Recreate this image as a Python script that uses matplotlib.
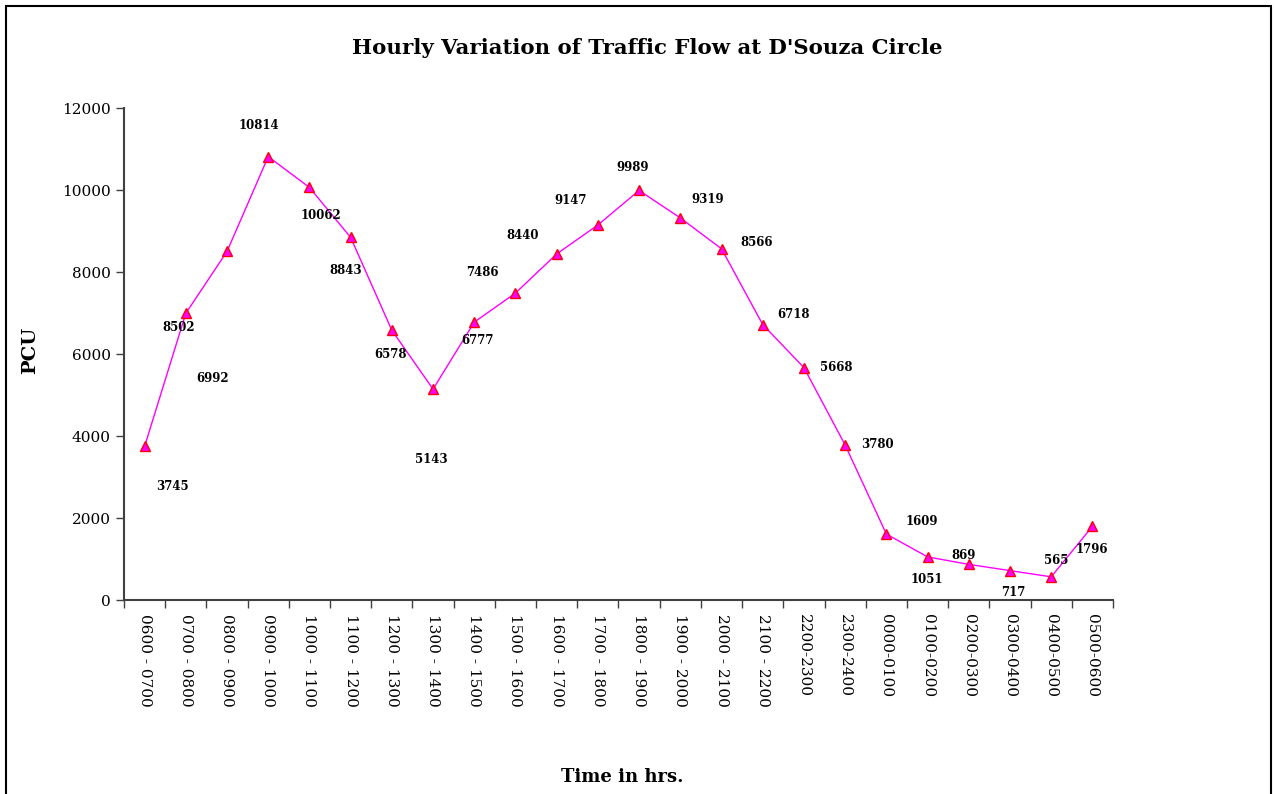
import numpy as np
import matplotlib
matplotlib.use("Agg")
import matplotlib.pyplot as plt
from matplotlib.patches import Rectangle

# hourly slots, 0600 to 0600 next day
slots = ["0600 - 0700", "0700 - 0800", "0800 - 0900", "0900 - 1000",
         "1000 - 1100", "1100 - 1200", "1200 - 1300", "1300 - 1400",
         "1400 - 1500", "1500 - 1600", "1600 - 1700", "1700 - 1800",
         "1800 - 1900", "1900 - 2000", "2000 - 2100", "2100 - 2200",
         "2200-2300", "2300-2400", "0000-0100", "0100-0200",
         "0200-0300", "0300-0400", "0400-0500", "0500-0600"]
pcu = [3745, 6992, 8502, 10814, 10062, 8843, 6578, 5143, 6777, 7486, 8440, 9147,
       9989, 9319, 8566, 6718, 5668, 3780, 1609, 1051, 869, 717, 565, 1796]
y_ticks = [0, 2000, 4000, 6000, 8000, 10000, 12000]

# where each value label sits relative to its marker (pixels)
label_dx = [28, 27, -48, -9, 12, -5, -1, -2, 3, -33, -34, -27,
            -6, 27, 35, 31, 32, 32, 35, -1, -5, 3, 5, -1]
label_dy = [-40, -65, -76, 31, -28, -33, -24, -70, -18, 21, 18, 24,
            23, 18, 6, 10, 0, 1, 13, -23, 9, -22, 16, -23]

plt.rcParams['font.family'] = ['DejaVu Serif']

fig = plt.figure(figsize=(12.74, 7.94), dpi=100)
ax = fig.add_axes([124 / 1274, 1 - 600 / 794, (1113 - 124) / 1274, (600 - 108) / 794])

x = np.arange(len(slots))
ax.plot(x, pcu, color='#FF00FF', lw=1.0, marker='^', markersize=7.5,
        markerfacecolor='#FF00FF', markeredgecolor='#FF0000', markeredgewidth=1.0,
        clip_on=False)

for i, v in enumerate(pcu):
    ax.annotate(str(v), (x[i], v), xytext=(label_dx[i], label_dy[i]),
                textcoords='offset pixels', ha='center', va='center',
                fontsize=8.5, fontweight='bold')

ax.set_xlim(-0.5, len(slots) - 0.5)
ax.set_ylim(0, 12000)
ax.set_yticks(y_ticks)
ax.set_yticklabels([str(t) for t in y_ticks], fontsize=11)

# ticks on category boundaries, labels at the centres
ax.set_xticks(np.arange(-0.5, len(slots)), minor=False)
ax.set_xticklabels([])
ax.set_xticks(x, minor=True)
ax.set_xticklabels(slots, minor=True, rotation=270, fontsize=11, va='top', ha='center')
ax.tick_params(axis='x', which='major', length=6, width=1, color='#404040')
ax.tick_params(axis='x', which='minor', length=0, pad=10)
ax.tick_params(axis='y', length=6, width=1, color='#404040')

for s in ['top', 'right']:
    ax.spines[s].set_visible(False)
for s in ['left', 'bottom']:
    ax.spines[s].set_color('#404040')
    ax.spines[s].set_linewidth(1.5)

fig.text(647 / 1274, 1 - 48 / 794, "Hourly Variation of Traffic Flow at D'Souza Circle",
         ha='center', va='center', fontsize=15.3, fontweight='bold')
fig.text(30 / 1274, 1 - 350 / 794, "PCU", rotation=90, ha='center', va='center',
         fontsize=14, fontweight='bold')
fig.text(622 / 1274, 1 - 777 / 794, "Time in hrs.", ha='center', va='center',
         fontsize=13, fontweight='bold')

# chart area border
fig.patches.append(Rectangle((6 / 1274, -0.05), (1271 - 6) / 1274, 1.05 - 6 / 794,
                             transform=fig.transFigure, fill=False,
                             edgecolor='black', lw=1.5))

fig.savefig("out.png", dpi=100, facecolor='white')
